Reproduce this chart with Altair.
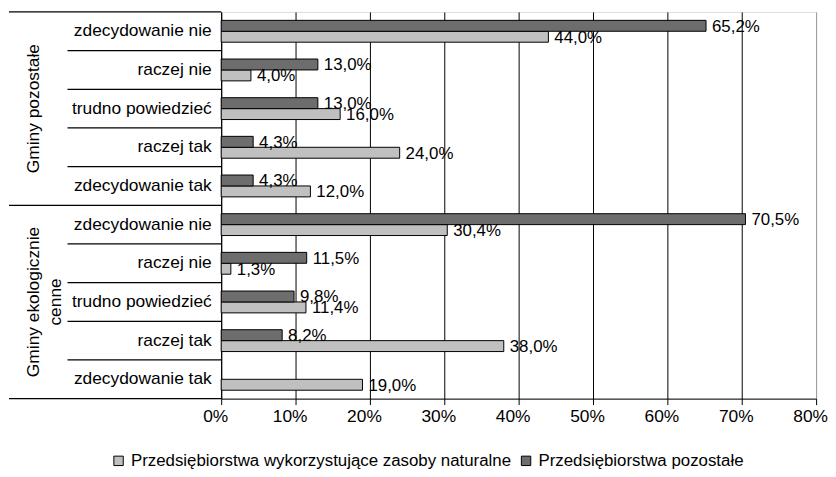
import altair as alt
import pandas as pd

groups = ["Gminy pozostałe", "Gminy ekologicznie cenne"]
group_lines = [["Gminy pozostałe"], ["Gminy ekologicznie", "cenne"]]
categories = ["zdecydowanie nie", "raczej nie", "trudno powiedzieć", "raczej tak", "zdecydowanie tak"]
series_light = "Przedsiębiorstwa wykorzystujące zasoby naturalne"
series_dark = "Przedsiębiorstwa pozostałe"

# values in %
light_pozostale = [44.0, 4.0, 16.0, 24.0, 12.0]
dark_pozostale = [65.2, 13.0, 13.0, 4.3, 4.3]
light_eko = [30.4, 1.3, 11.4, 38.0, 19.0]
dark_eko = [70.5, 11.5, 9.8, 8.2, None]

x_ticks = [0, 10, 20, 30, 40, 50, 60, 70, 80]

LIGHT = "#c0c0c0"
DARK = "#6d6d6d"
FONT = "Liberation Sans"

rows = []
keys = []
for g, lv, dv in [(groups[0], light_pozostale, dark_pozostale), (groups[1], light_eko, dark_eko)]:
    for c, l, d in zip(categories, lv, dv):
        k = g + "|" + c
        keys.append(k)
        rows.append({"key": k, "series": series_light, "value": l})
        if d is not None:
            rows.append({"key": k, "series": series_dark, "value": d})
df = pd.DataFrame(rows)

# separator rules
cat_rules = pd.DataFrame({"key": [k for k in keys if not k.endswith("|" + categories[0])]})
grp_rules = pd.DataFrame({"key": [g + "|" + categories[0] for g in groups]})
bottom_rule = pd.DataFrame({"key": [keys[-1]]})
grp_labels = pd.DataFrame({"key": [g + "|" + categories[2] for g in groups],
                           "text": group_lines})

yscale = alt.Scale(domain=keys, paddingInner=0, paddingOuter=0)

base_y = alt.Y("key:N", scale=yscale, sort=keys,
               axis=alt.Axis(title=None, ticks=False, domain=True, domainColor="black",
                             labelExpr="split(datum.label, '|')[1]",
                             labelFontSize=17.5, labelColor="black", labelFont=FONT,
                             labelPadding=10, labelLimit=300))

xscale = alt.Scale(domain=[0, 80], nice=False, zero=True)
xaxis = alt.Axis(title=None, values=x_ticks, labelExpr="datum.value + '%'",
                 grid=True, gridColor={"condition": {"test": "datum.value === 80", "value": "#999999"}, "value": "black"},
                 gridOpacity=1, domainColor="black", tickColor="black", tickSize=6,
                 labelFontSize=17.5, labelColor="black", labelFont=FONT, labelFlush=False,
                 labelOffset=-6, labelPadding=3)

yoff = alt.YOffset("series:N", sort=[series_dark, series_light],
                   scale=alt.Scale(domain=[series_dark, series_light], paddingInner=0, paddingOuter=0.77))

bars = alt.Chart(df).mark_bar(stroke="black", strokeWidth=1).encode(
    x=alt.X("value:Q", scale=xscale, axis=xaxis),
    y=base_y,
    yOffset=yoff,
    color=alt.Color("series:N", scale=alt.Scale(domain=[series_light, series_dark], range=[LIGHT, DARK]),
                    legend=alt.Legend(title=None, orient="none", legendX=-112, legendY=444,
                                      direction="horizontal", symbolType="square", symbolSize=90,
                                      symbolStrokeColor="black", symbolStrokeWidth=1,
                                      labelFontSize=17, labelFont=FONT, labelColor="black",
                                      labelLimit=500, columnPadding=6, symbolOffset=0)),
)

labels = alt.Chart(df).transform_calculate(
    lab="replace(format(datum.value, '.1f'), '.', ',') + '%'"
).mark_text(align="left", baseline="middle", dx=6, dy=1, fontSize=17, font=FONT, color="black").encode(
    x=alt.X("value:Q", scale=xscale),
    y=alt.Y("key:N", scale=yscale, sort=keys),
    yOffset=yoff,
    text="lab:N",
)

cat_rule_layer = alt.Chart(cat_rules).mark_rule(color="black", strokeWidth=1.3).encode(
    y=alt.Y("key:N", scale=yscale, sort=keys, bandPosition=0),
    x=alt.value(-155), x2=alt.value(0),
)
grp_rule_layer = alt.Chart(grp_rules).mark_rule(color="black", strokeWidth=1.3).encode(
    y=alt.Y("key:N", scale=yscale, sort=keys, bandPosition=0),
    x=alt.value(-214), x2=alt.value(0),
)
bottom_rule_layer = alt.Chart(bottom_rule).mark_rule(color="black", strokeWidth=1.3).encode(
    y=alt.Y("key:N", scale=yscale, sort=keys, bandPosition=1),
    x=alt.value(-214), x2=alt.value(0),
)
grp_label_layer = alt.Chart(grp_labels).mark_text(
    angle=270, align="center", baseline="middle", fontSize=17.5, font=FONT, color="black", lineHeight=22
).encode(
    y=alt.Y("key:N", scale=yscale, sort=keys),
    x=alt.value(-189),
    text="text",
)

chart = alt.layer(bars, labels, cat_rule_layer, grp_rule_layer, bottom_rule_layer, grp_label_layer).properties(
    width=600, height=390,
    autosize=alt.AutoSizeParams(type="none"),
    padding={"left": 215, "top": 2, "right": 12, "bottom": 70}
).configure_view(stroke="#999999", strokeWidth=1).configure(background="white")

chart.save("out.html", embed_options={"renderer": "svg", "actions": False})
